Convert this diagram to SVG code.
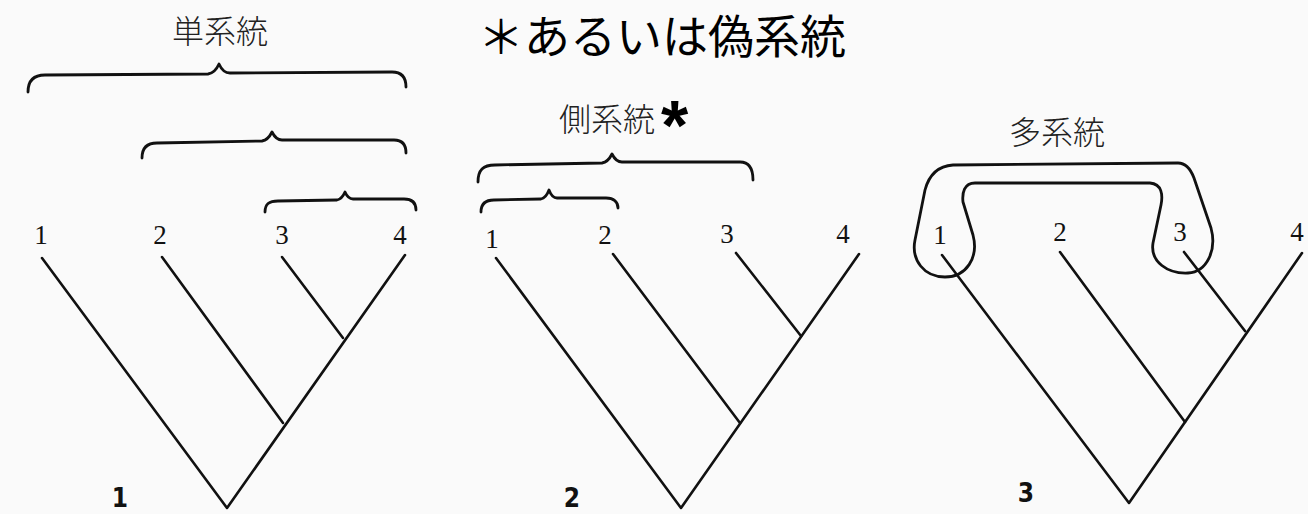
<svg xmlns="http://www.w3.org/2000/svg" width="1308" height="514" viewBox="0 0 1308 514">
  <style>
    .br { fill: none; stroke: #111; stroke-width: 2.6; stroke-linecap: round; stroke-linejoin: round; }
    .brace { fill: none; stroke: #111; stroke-width: 2.8; stroke-linecap: round; stroke-linejoin: round; }
    .leaf { font-family: "Liberation Serif", serif; font-size: 27px; fill: #111; text-anchor: middle; }
    .jp { font-family: "Noto Sans CJK JP", sans-serif; font-size: 32px; fill: #222; text-anchor: middle; font-weight: 300; }
    .fig { font-family: "DejaVu Sans Condensed", "DejaVu Sans", sans-serif; font-weight: bold; font-size: 26px; fill: #111; text-anchor: middle; }
  </style>
  <rect x="0" y="0" width="1308" height="514" fill="#fafafa"/>

  <g id="title-note">
    <text x="478" y="53" font-family="Noto Sans CJK JP, sans-serif" font-size="46" fill="#000">＊あるいは偽系統</text>
  </g>

  <g id="panel1">
    <text class="jp" x="220" y="43">単系統</text>
    <path class="brace" d="M 28 92 C 28 81 33 75 45 75 L 208 74 Q 215 73 219 64 Q 223 73 230 73 L 392 72 C 402 72 406 78 406 87"/>
    <path class="brace" d="M 142 158 C 142 148 147 143 157 143 L 262 141 Q 268 140 272 132 Q 276 140 282 140 L 394 140 C 403 140 406 146 406 153"/>
    <path class="brace" d="M 265 212 C 265 204 269 201 278 201 L 337 200 Q 342 199 345 192 Q 348 199 353 199 L 404 199 C 413 199 416 204 416 210"/>
    <text class="leaf" x="41" y="244">1</text>
    <text class="leaf" x="160" y="244">2</text>
    <text class="leaf" x="282" y="244">3</text>
    <text class="leaf" x="400" y="244">4</text>
    <text class="fig" x="120" y="507">1</text>
  </g>

  <g id="panel2">
    <text class="jp" x="607" y="131">側系統</text>
    <text x="661" y="150" font-family="Liberation Sans, sans-serif" font-weight="bold" font-size="70" fill="#000">*</text>
    <path class="brace" d="M 478 182 C 478 170 483 165 495 165 L 602 163 Q 608 162 612 154 Q 616 162 622 162 L 740 162 C 750 162 753 170 753 180"/>
    <path class="brace" d="M 481 212 C 481 204 485 200 494 200 L 541 199 Q 546 198 549 190 Q 552 198 557 198 L 606 198 C 614 198 618 202 618 208"/>
    <text class="leaf" x="492" y="248">1</text>
    <text class="leaf" x="605" y="244">2</text>
    <text class="leaf" x="727" y="243">3</text>
    <text class="leaf" x="843" y="243">4</text>
    <text class="fig" x="572" y="507">2</text>
  </g>

  <g id="panel3">
    <text class="jp" x="1057" y="144">多系統</text>
    <path class="brace" d="M 953 165 L 1178 163 C 1186 163 1191 170 1194 178 L 1211 228 C 1217 250 1207 272 1188 273 C 1168 274 1150 262 1153 243 L 1161 205 C 1163 195 1162 184 1150 183 L 975 183 C 964 183 962 193 963 202 L 973 235 C 979 258 966 277 945 277 C 924 277 911 260 915 240 L 925 190 C 929 175 938 166 953 165 Z"/>
    <text class="leaf" x="940" y="244">1</text>
    <text class="leaf" x="1060" y="241">2</text>
    <text class="leaf" x="1180" y="241">3</text>
    <text class="leaf" x="1297" y="241">4</text>
    <text class="fig" x="1026" y="502">3</text>
  </g>

  <g id="connectors">
    <path class="br" d="M 42 258 L 227 508 L 405 255"/>
    <path class="br" d="M 162 257 L 283 423"/>
    <path class="br" d="M 282 257 L 343 338"/>

    <path class="br" d="M 496 258 L 681 508 L 859 254"/>
    <path class="br" d="M 613 254 L 740 423"/>
    <path class="br" d="M 736 253 L 801 336"/>

    <path class="br" d="M 942 255 L 1129 503 L 1302 253"/>
    <path class="br" d="M 1060 252 L 1185 422"/>
    <path class="br" d="M 1184 252 L 1245 331"/>
  </g>
</svg>
